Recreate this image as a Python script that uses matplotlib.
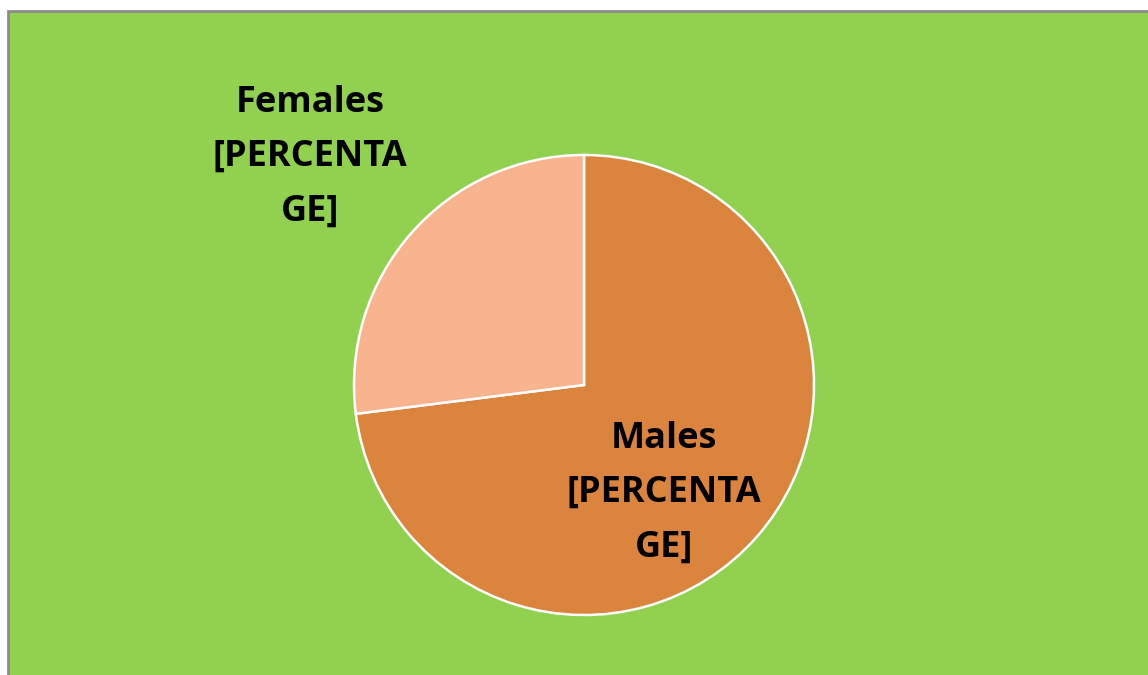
import matplotlib
matplotlib.use("Agg")
import matplotlib.pyplot as plt
from matplotlib.patches import Rectangle

categories = ["Males", "Females"]
values = [73, 27]
colors = ["#DB843E", "#F8B48F"]
label_texts = ["Males\n[PERCENTA\nGE]", "Females\n[PERCENTA\nGE]"]

W, H = 1148, 675
fig = plt.figure(figsize=(W / 100, H / 100), dpi=100)
fig.patch.set_facecolor("white")
ax = fig.add_axes([0, 0, 1, 1])
ax.set_xlim(0, W)
ax.set_ylim(0, H)
ax.axis("off")

# chart area background with grey border (left and top)
ax.add_patch(Rectangle((8, -5), W + 10, H - 10 + 5 - 0.5, facecolor="#92D050",
                       edgecolor="#8C8C8C", linewidth=2, zorder=0))

cx, cy, r = 584, H - 385, 230
wedges, _ = ax.pie(values, colors=colors, startangle=90, counterclock=False,
                   center=(cx, cy), radius=r, frame=True,
                   wedgeprops=dict(edgecolor="white", linewidth=1.8))
ax.set_xlim(0, W)
ax.set_ylim(0, H)
ax.axis("off")

label_pos = [(664, H - 493), (310, H - 157)]
for txt, (x, y) in zip(label_texts, label_pos):
    ax.text(x, y, txt, ha="center", va="center", fontsize=26, fontweight="bold",
            family=["Open Sans", "DejaVu Sans"], color="black", linespacing=1.68)

fig.savefig("out.png", dpi=100, facecolor=fig.get_facecolor())
